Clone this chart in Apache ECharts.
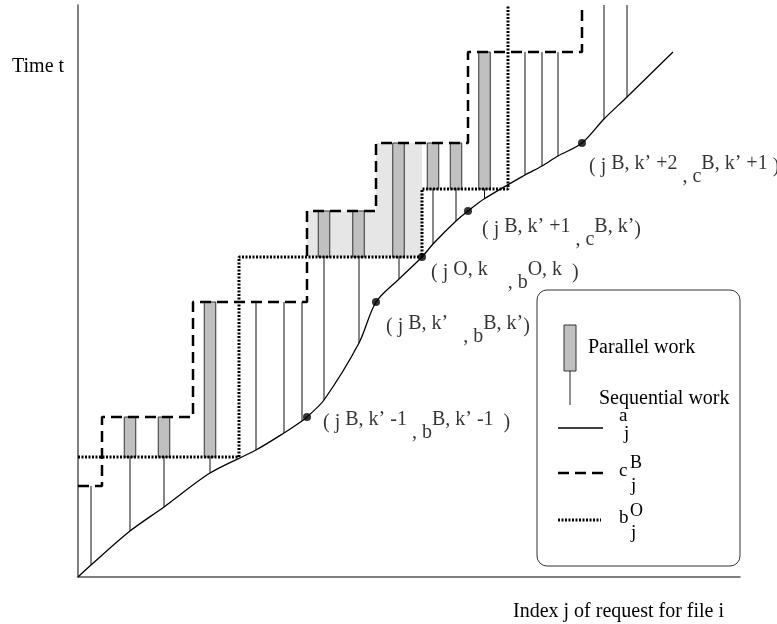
<!DOCTYPE html>
<html>
<head>
<meta charset="utf-8">
<title>Parallel and sequential work</title>
<script src="https://cdn.jsdelivr.net/npm/echarts@6/dist/echarts.min.js"></script>
<style>
  html, body { margin: 0; padding: 0; background: #fff; }
  #chart { width: 777px; height: 624px; }
</style>
</head>
<body>
<div id="chart"></div>
<script>
// a_j : [index j, time t]
const curvePoints = [
  [0, 0], [13, 12], [52, 46], [86, 70], [132, 104], [178, 127], [206, 144],
  [224, 156], [229, 160], [246, 177], [281, 234], [298, 275], [321, 298],
  [344, 320], [355, 333], [378, 356], [390, 366], [406, 378], [447, 402],
  [464, 411], [480, 421], [504, 434], [526, 458], [549, 480], [595, 525]
]
// c_j^B (step, value changes at j)
const cBSteps = [[0, 91], [24, 160], [115, 275], [229, 366], [298, 434], [390, 525], [504, 572]]
// b_j^O (step)
const bOSteps = [[0, 120], [161, 320], [344, 388], [430, 572]]
// light grey area
const shadeArea = [[229, 320], [229, 366], [298, 366], [298, 434], [344, 434], [344, 320]]
// parallel work: [j, from t, to t]
const parallelBars = [
  [52, 120, 160], [86, 120, 160], [132, 120, 275], [246, 320, 366], [280.5, 320, 366],
  [320.5, 320, 434], [355, 388, 434], [378, 388, 434], [406.5, 388, 525]
]
// sequential work: [j, from t, to t]
const seqLines = [
  [13, 91, 12], [52, 120, 46], [86, 120, 70], [132, 120, 104], [178, 275, 127],
  [206, 275, 144], [224, 275, 156], [246, 320, 177], [281, 320, 234], [321, 320, 298],
  [355, 388, 333], [378, 388, 356], [406.5, 388, 378], [447, 525, 402], [464, 525, 411],
  [480, 525, 421], [526, 572, 458], [549, 572, 480]
]
// marked points on a_j
const keyPoints = [[229, 160], [298, 275], [344, 320], [390, 366], [504, 434]]
const keyLabels = [
  '{b|( j }{p|B, k’ -1}{s| , b}{p|B, k’ -1}{b|  )}',
  '{b|( j }{p|B, k’}{s|   , b}{p|B, k’}{b|)}',
  '{b|( j }{p|O, k}{s|    , b}{p|O, k}{b|  )}',
  '{b|( j }{p|B, k’ +1}{s| , c}{p|B, k’}{b|)}',
  '{b|( j }{p|B, k’ +2}{s| , c}{p|B, k’ +1}{b| )}'
]
const keyLabelOffsets = [[8, 6], [2, 25], [1, 16], [6, 19], [-1, 24]]

const serif = '"Liberation Serif", "Times New Roman", serif'
const barWidth = 11.5

const chart = echarts.init(document.getElementById('chart'))

function renderBar(params, api) {
  const j = api.value(0)
  const top = api.coord([j, api.value(2)])
  const bottom = api.coord([j, api.value(1)])
  const w = api.size([barWidth, 0])[0]
  return {
    type: 'rect',
    shape: { x: top[0] - w / 2, y: top[1], width: w, height: bottom[1] - top[1] },
    style: { fill: '#c0c0c0', stroke: '#333', lineWidth: 1 }
  }
}

function renderSeq(params, api) {
  const j = api.value(0)
  const p1 = api.coord([j, api.value(1)])
  const p2 = api.coord([j, api.value(2)])
  return {
    type: 'line',
    shape: { x1: p1[0], y1: p1[1], x2: p2[0], y2: p2[1] },
    style: { stroke: '#111', lineWidth: 1 }
  }
}

function renderShade(params, api) {
  if (params.dataIndex !== 0) return null
  return {
    type: 'polygon',
    shape: { points: shadeArea.map((p) => api.coord(p)) },
    style: { fill: '#e6e6e6' }
  }
}

function legendText(text, x, y, size) {
  return {
    type: 'text', x, y,
    style: { text, fontFamily: serif, fontSize: size || 20, fill: '#000', verticalAlign: 'middle' }
  }
}

const axisLine = { show: true, lineStyle: { color: '#555', width: 1.5 } }

const option = {
  animation: false,
  grid: { left: 78, right: 37, top: 5, bottom: 47 },
  xAxis: {
    type: 'value', min: 0, max: 662,
    axisLine, axisTick: { show: false }, axisLabel: { show: false }, splitLine: { show: false }
  },
  yAxis: {
    type: 'value', min: 0, max: 572,
    axisLine, axisTick: { show: false }, axisLabel: { show: false }, splitLine: { show: false }
  },
  series: [
    { type: 'custom', name: 'shade', z: 1, data: shadeArea, renderItem: renderShade },
    { type: 'custom', name: 'Sequential work', z: 2, data: seqLines, renderItem: renderSeq },
    { type: 'custom', name: 'Parallel work', z: 3, data: parallelBars, renderItem: renderBar },
    {
      type: 'line', name: 'a_j', z: 4, data: curvePoints, symbol: 'none', smooth: 0.3,
      lineStyle: { color: '#000', width: 1.3 }
    },
    {
      type: 'line', name: 'c_j^B', z: 5, data: cBSteps, step: 'end', symbol: 'none',
      lineStyle: { color: '#000', width: 2.5, type: [11, 6] }
    },
    {
      type: 'line', name: 'b_j^O', z: 5, data: bOSteps, step: 'end', symbol: 'none',
      lineStyle: { color: '#000', width: 3, type: [2, 1.5] }
    },
    {
      type: 'scatter', name: 'points', z: 6, symbolSize: 8,
      itemStyle: { color: '#000' },
      label: {
        show: true, position: 'right', distance: 4, color: '#000',
        rich: {
          b: { fontFamily: serif, fontSize: 20, lineHeight: 40, verticalAlign: 'middle', color: '#000' },
          p: { fontFamily: serif, fontSize: 20, verticalAlign: 'top', padding: [7, 0, 0, 0], color: '#000' },
          s: { fontFamily: serif, fontSize: 20, verticalAlign: 'bottom', color: '#000' }
        }
      },
      data: keyPoints.map((p, i) => ({
        value: p,
        label: { formatter: keyLabels[i], offset: keyLabelOffsets[i] }
      }))
    }
  ],
  graphic: [
    legendText('Time t', 12, 67),
    legendText('Index j of request for file i', 513, 612),
    {
      type: 'rect', shape: { x: 537, y: 290, width: 203, height: 276, r: 10 },
      style: { fill: 'none', stroke: '#333', lineWidth: 1 }
    },
    {
      type: 'rect', shape: { x: 564, y: 325, width: 12, height: 46 },
      style: { fill: '#c0c0c0', stroke: '#333', lineWidth: 1 }
    },
    { type: 'line', shape: { x1: 570, y1: 371, x2: 570, y2: 405 }, style: { stroke: '#222', lineWidth: 1 } },
    legendText('Parallel work', 588, 348),
    legendText('Sequential work', 599, 399),
    { type: 'line', shape: { x1: 558, y1: 428, x2: 603, y2: 428 }, style: { stroke: '#000', lineWidth: 1.3 } },
    legendText('a', 619, 416, 19),
    legendText('j', 624, 434, 19),
    {
      type: 'line', shape: { x1: 558, y1: 473, x2: 603, y2: 473 },
      style: { stroke: '#000', lineWidth: 2.5, lineDash: [11, 6] }
    },
    legendText('c', 619, 471, 19),
    legendText('B', 630, 463, 18),
    legendText('j', 631, 486, 19),
    {
      type: 'line', shape: { x1: 558, y1: 520, x2: 601, y2: 520 },
      style: { stroke: '#000', lineWidth: 3, lineDash: [2, 1.5] }
    },
    legendText('b', 619, 518, 19),
    legendText('O', 630, 511, 18),
    legendText('j', 631, 533, 19)
  ]
}

chart.setOption(option)
window.addEventListener('resize', () => chart.resize())
</script>
</body>
</html>
